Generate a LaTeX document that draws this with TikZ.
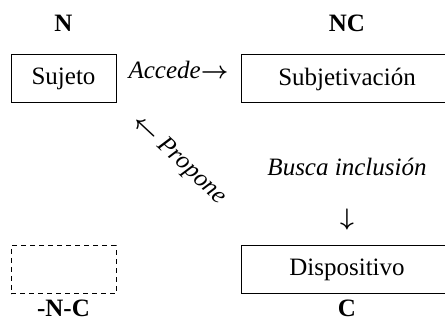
\documentclass[tikz,border=0pt]{standalone}
\usepackage{fontspec}
\setmainfont{Liberation Serif}
\usetikzlibrary{positioning}

\begin{document}
\begin{tikzpicture}[node distance=2cm, semithick, line width=0.5pt,
                    font=\fontsize{12.5}{15}\selectfont,
                    box/.style={draw, minimum width=52.5pt, minimum height=24pt},
                    wide/.style={box, minimum width=106pt},
                    lab/.style={inner sep=0pt, font=\fontsize{12.5}{15}\selectfont\bfseries}]

  \useasboundingbox (0,0) rectangle (222.5pt,-160pt);

  \node[box]  (Suj) at (31.75pt,-39.5pt) {Sujeto};
  \node[wide] (Sub) [right = 62pt of Suj] {Subjetivación};
  \node[wide] (Dis) [below = 71pt of Sub] {Dispositivo};
  \node[box, dashed, dash pattern=on 2.5pt off 2pt] (Vac) [below = 71pt of Suj] {};

  \node[lab] (lN)  [above = 11pt of Suj]  {N};
  \node[lab] (lNC) [above = 11pt of Sub]  {NC};
  \node[lab] (lC)  [below = 2.5pt of Dis] {C};
  \node[lab] (lNo) [below = 2.5pt of Vac] {-N-C};

  \node[rotate=-43] (Prop) at (89.5pt,-80pt) {{\boldmath$\leftarrow$} \textit{Propone}};

  \path
        (Suj) -- node[above, inner sep=0pt] {\textit{Accede}{\boldmath$\rightarrow$}} (Sub)
        (Sub) -- node[pos=0.444] {\textit{Busca inclusión}}
                 node[pos=0.817] {{\boldmath$\downarrow$}} (Dis)
  ;
\end{tikzpicture}
\end{document}
